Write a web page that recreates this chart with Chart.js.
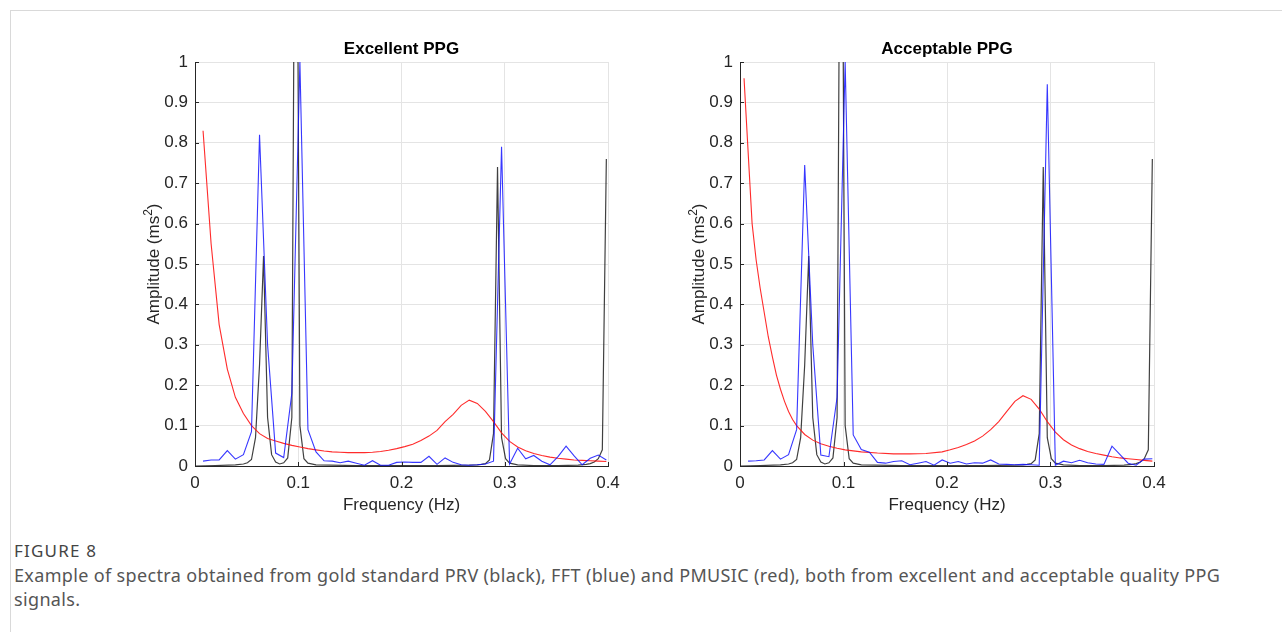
<!DOCTYPE html>
<html>
<head>
<meta charset="utf-8">
<script src="https://cdn.jsdelivr.net/npm/chart.js@4.4.0/dist/chart.umd.min.js"></script>
<style>
  body { margin: 0; background: #fff; width: 1282px; height: 632px; overflow: hidden; position: relative; font-family: "Noto Sans", sans-serif; }
  .frame { position: absolute; left: 10px; top: 10px; width: 1300px; height: 700px; border-top: 1px solid #d9d9d9; border-left: 1px solid #d9d9d9; }
  .box { position: absolute; }
  .fig { position: absolute; left: 14px; top: 539px; font-size: 17px; letter-spacing: 1.2px; color: #444; }
  .cap { position: absolute; left: 14px; top: 563px; width: 1225px; font-size: 18px; letter-spacing: 0.35px; line-height: 24px; color: #555; }
</style>
</head>
<body>
<div class="frame"></div>
<div class="box" style="left:130px; top:30px; width:500px; height:490px;"><canvas id="left"></canvas></div>
<div class="box" style="left:675px; top:30px; width:501px; height:490px;"><canvas id="right"></canvas></div>
<div class="fig">FIGURE 8</div>
<div class="cap">Example of spectra obtained from gold standard PRV (black), FFT (blue) and PMUSIC (red), both from excellent and acceptable quality PPG signals.</div>

<script>
// FFT bins (Hz)
const fftFreq = [0.0078, 0.0156, 0.0234, 0.0313, 0.0391, 0.0469, 0.0547, 0.0625, 0.0703, 0.0781,
  0.0859, 0.0938, 0.1016, 0.1094, 0.1172, 0.125, 0.1328, 0.1406, 0.1484, 0.1563,
  0.1641, 0.1719, 0.1797, 0.1875, 0.1953, 0.2031, 0.2109, 0.2188, 0.2266, 0.2344,
  0.2422, 0.25, 0.2578, 0.2656, 0.2734, 0.2813, 0.2891, 0.2969, 0.3047, 0.3125,
  0.3203, 0.3281, 0.3359, 0.3438, 0.3516, 0.3594, 0.3672, 0.375, 0.3828, 0.3906, 0.3984];

// excellent PPG
const fftExcellent = [0.012, 0.015, 0.015, 0.038, 0.017, 0.028, 0.085, 0.82, 0.30, 0.032,
  0.021, 0.18, 1.0, 0.09, 0.035, 0.013, 0.012, 0.008, 0.012, 0.007,
  0.002, 0.013, 0.002, 0.002, 0.009, 0.01, 0.009, 0.009, 0.024, 0.004,
  0.02, 0.009, 0.003, 0.002, 0.003, 0.005, 0.012, 0.79, 0.005, 0.044,
  0.018, 0.026, 0.012, 0.003, 0.023, 0.049, 0.025, 0.003, 0.019, 0.027, 0.015];

const pmusicExcellent = [0.83, 0.55, 0.35, 0.24, 0.17, 0.13, 0.10, 0.08, 0.068, 0.062,
  0.056, 0.051, 0.047, 0.043, 0.04, 0.037, 0.035, 0.034, 0.033, 0.033,
  0.033, 0.034, 0.036, 0.039, 0.043, 0.048, 0.054, 0.063, 0.074, 0.088,
  0.11, 0.128, 0.15, 0.163, 0.155, 0.135, 0.11, 0.082, 0.061, 0.047,
  0.038, 0.031, 0.026, 0.022, 0.019, 0.017, 0.015, 0.014, 0.013, 0.012, 0.011];

// acceptable PPG
const fftAcceptable = [0.012, 0.013, 0.015, 0.038, 0.017, 0.028, 0.09, 0.745, 0.30, 0.027,
  0.023, 0.17, 1.0, 0.077, 0.041, 0.034, 0.009, 0.007, 0.011, 0.013,
  0.003, 0.007, 0.011, 0.002, 0.015, 0.007, 0.011, 0.005, 0.008, 0.007,
  0.015, 0.005, 0.004, 0.003, 0.004, 0.003, 0.002, 0.945, 0.002, 0.012,
  0.008, 0.014, 0.008, 0.005, 0.004, 0.049, 0.028, 0.007, 0.002, 0.017, 0.018];

const pmusicAccFreq = [0.0039, 0.0117, 0.0156, 0.0195, 0.0234, 0.0273, 0.0313, 0.0352, 0.0391, 0.043,
  0.0469, 0.0508, 0.0547, 0.0625, 0.0703, 0.0781, 0.0859, 0.0938, 0.1016, 0.1172,
  0.1328, 0.1484, 0.1641, 0.1797, 0.1953, 0.2031, 0.2109, 0.2188, 0.2266, 0.2344,
  0.2422, 0.25, 0.2578, 0.2656, 0.2734, 0.2813, 0.2891, 0.2969, 0.3047, 0.3125,
  0.3203, 0.3281, 0.3359, 0.3438, 0.3516, 0.3594, 0.3672, 0.375, 0.3828, 0.3906, 0.3984];
const pmusicAcceptable = [0.96, 0.60, 0.51, 0.44, 0.38, 0.32, 0.27, 0.225, 0.19, 0.16,
  0.135, 0.115, 0.10, 0.078, 0.064, 0.055, 0.049, 0.044, 0.04, 0.035,
  0.032, 0.03, 0.03, 0.031, 0.035, 0.04, 0.046, 0.053, 0.062, 0.074,
  0.09, 0.11, 0.135, 0.16, 0.174, 0.165, 0.141, 0.11, 0.084, 0.065,
  0.052, 0.043, 0.036, 0.031, 0.027, 0.023, 0.02, 0.018, 0.016, 0.014, 0.012];

// gold standard PRV (same for both)
const prvFreq = [0, 0.0195, 0.0391, 0.0469, 0.0508, 0.0547, 0.0586, 0.0625, 0.0664, 0.0703,
  0.0742, 0.0781, 0.082, 0.0859, 0.0898, 0.0938, 0.0977, 0.1016, 0.1055, 0.1094,
  0.1172, 0.1563, 0.1953, 0.2344, 0.2656, 0.2734, 0.2773, 0.2813, 0.2852, 0.2891,
  0.293, 0.2969, 0.3008, 0.3047, 0.3125, 0.3281, 0.3516, 0.3711, 0.3789, 0.3828,
  0.3867, 0.3906, 0.3945, 0.3984];
const prvAmp = [0.0, 0.001, 0.003, 0.005, 0.008, 0.016, 0.07, 0.25, 0.52, 0.12,
  0.028, 0.01, 0.005, 0.008, 0.02, 0.12, 2.0, 0.1, 0.018, 0.007,
  0.003, 0.001, 0.001, 0.001, 0.002, 0.003, 0.004, 0.006, 0.015, 0.08,
  0.74, 0.07, 0.018, 0.007, 0.003, 0.001, 0.001, 0.002, 0.004, 0.006,
  0.01, 0.018, 0.04, 0.76];

const xTicks = [0, 0.1, 0.2, 0.3, 0.4];

const pts = (xs, ys) => xs.map((x, i) => ({ x: x, y: ys[i] }));

// MATLAB-ish extras: inward ticks, centred title, y label with superscript
const matlabLook = {
    id: 'matlabLook',
    afterDraw: (chart) => {
        const ctx = chart.ctx;
        const xs = chart.scales.x, ys = chart.scales.y;
        const area = chart.chartArea;
        ctx.save();
        ctx.strokeStyle = '#262626';
        ctx.lineWidth = 1;
        ctx.beginPath();
        xs.ticks.forEach(t => {
            const px = Math.round(xs.getPixelForValue(t.value)) + 0.5;
            ctx.moveTo(px, ys.bottom);
            ctx.lineTo(px, ys.bottom - 4);
        });
        ys.ticks.forEach(t => {
            const py = Math.round(ys.getPixelForValue(t.value)) + 0.5;
            ctx.moveTo(xs.left, py);
            ctx.lineTo(xs.left + 4, py);
        });
        ctx.stroke();

        // title
        const cx = (area.left + area.right) / 2;
        ctx.fillStyle = '#000';
        ctx.font = 'bold 17px "Liberation Sans"';
        ctx.textAlign = 'center';
        ctx.textBaseline = 'middle';
        ctx.fillText(chart.options.plugins.matlabLook.title, cx, area.top - 13);

        // y label
        const main = 'Amplitude (ms', sup = '2', close = ')';
        ctx.font = '17px "Liberation Sans"';
        const w1 = ctx.measureText(main).width, w3 = ctx.measureText(close).width;
        ctx.font = '12px "Liberation Sans"';
        const w2 = ctx.measureText(sup).width;
        const total = w1 + w2 + w3;
        ctx.translate(area.left - 42, (area.top + area.bottom) / 2);
        ctx.rotate(-Math.PI / 2);
        ctx.fillStyle = '#262626';
        ctx.textAlign = 'left';
        ctx.textBaseline = 'alphabetic';
        ctx.font = '17px "Liberation Sans"';
        ctx.fillText(main, -total / 2, 6);
        ctx.font = '12px "Liberation Sans"';
        ctx.fillText(sup, -total / 2 + w1, -1);
        ctx.font = '17px "Liberation Sans"';
        ctx.fillText(close, -total / 2 + w1 + w2, 6);
        ctx.restore();
    }
};

function makeChart(id, title, fft, pmFreq, pm) {
    return new Chart(document.getElementById(id), {
        type: 'line',
        data: {
            datasets: [
                { label: 'FFT', data: pts(fftFreq, fft), borderColor: 'rgba(20,20,255,0.85)', borderWidth: 1.1 },
                { label: 'PMUSIC', data: pts(pmFreq, pm), borderColor: 'rgba(255,20,20,0.9)', borderWidth: 1.1 },
                { label: 'PRV', data: pts(prvFreq, prvAmp), borderColor: 'rgba(0,0,0,0.75)', borderWidth: 1.2 }
            ]
        },
        options: {
            responsive: true,
            maintainAspectRatio: false,
            animation: false,
            elements: { point: { radius: 0 }, line: { tension: 0 } },
            layout: { padding: { left: 0, right: 22, top: 32, bottom: 0 } },
            plugins: {
                legend: { display: false },
                tooltip: { enabled: false },
                title: { display: false },
                matlabLook: { title: title }
            },
            scales: {
                x: {
                    type: 'linear', min: 0, max: 0.4,
                    afterBuildTicks: (s) => { s.ticks = xTicks.map(v => ({ value: v })); },
                    afterFit: (s) => { s.height = 54; },
                    ticks: {
                        color: '#262626', padding: 7, maxRotation: 0,
                        font: { family: 'Liberation Sans', size: 17 },
                        callback: (v) => String(Math.round(v * 10) / 10)
                    },
                    grid: { color: '#e4e4e4', drawTicks: false },
                    border: { color: '#262626', width: 1 },
                    title: {
                        display: true, text: 'Frequency (Hz)', color: '#262626',
                        font: { family: 'Liberation Sans', size: 17 },
                        padding: { top: 0, bottom: 4 }
                    }
                },
                y: {
                    type: 'linear', min: 0, max: 1,
                    afterFit: (s) => { s.width = 65; },
                    ticks: {
                        stepSize: 0.1, color: '#262626', padding: 7,
                        font: { family: 'Liberation Sans', size: 17 },
                        callback: (v) => String(Math.round(v * 10) / 10)
                    },
                    grid: { color: '#e4e4e4', drawTicks: false },
                    border: { color: '#262626', width: 1 },
                    title: { display: false }
                }
            }
        },
        plugins: [matlabLook]
    });
}

makeChart('left', 'Excellent PPG', fftExcellent, fftFreq, pmusicExcellent);
makeChart('right', 'Acceptable PPG', fftAcceptable, pmusicAccFreq, pmusicAcceptable);
</script>
</body>
</html>
